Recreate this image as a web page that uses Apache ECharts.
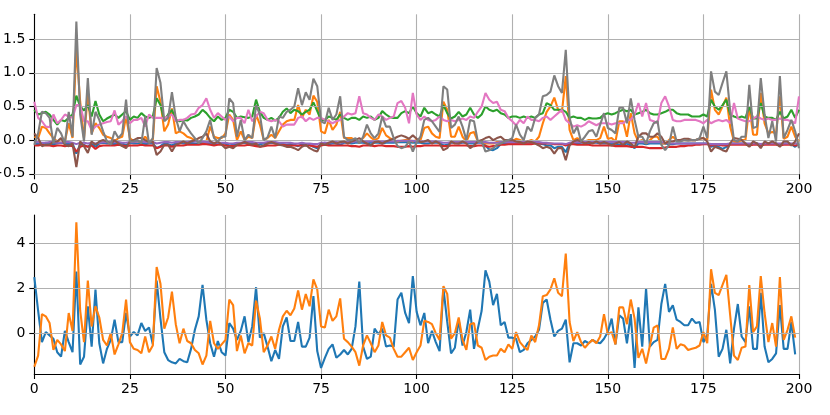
<!DOCTYPE html>
<html><head><meta charset="utf-8">
<script src="https://cdn.jsdelivr.net/npm/echarts@6/dist/echarts.min.js"></script>
<style>html,body{margin:0;padding:0;background:#fff}#c{width:830px;height:415px}</style>
</head><body><div id="c"></div>
<script>
// x positions are the sample index
const xTicks = [0,25,50,75,100,125,150,175,200];
const topYTicks = [-0.5,0,0.5,1.0,1.5];
const botYTicks = [0,2,4];

// ---- top panel series ----
const t1 = [-0.05,-0.06,-0.05,-0.04,-0.05,-0.06,-0.05,-0.04,-0.05,-0.06,
-0.05,-0.2,-0.06,-0.07,-0.1,-0.05,-0.1,-0.05,-0.04,-0.05,
-0.05,-0.06,-0.05,-0.05,-0.08,-0.04,-0.05,-0.05,-0.04,-0.06,
-0.05,-0.05,-0.12,-0.09,-0.05,-0.06,-0.08,-0.05,-0.04,-0.05,
-0.05,-0.04,-0.05,-0.05,-0.04,-0.05,-0.05,-0.06,-0.05,-0.05,
-0.05,-0.08,-0.07,-0.05,-0.05,-0.04,-0.05,-0.05,-0.08,-0.06,
-0.05,-0.05,-0.04,-0.05,-0.05,-0.06,-0.07,-0.06,-0.07,-0.09,
-0.06,-0.08,-0.07,-0.1,-0.12,-0.05,-0.04,-0.06,-0.05,-0.05,
-0.07,-0.04,-0.04,-0.05,-0.04,-0.04,-0.04,-0.05,-0.04,-0.04,
-0.04,-0.05,-0.04,-0.04,-0.04,-0.03,-0.03,-0.03,-0.03,-0.04,
-0.04,-0.04,-0.05,-0.05,-0.04,-0.04,-0.04,-0.08,-0.07,-0.04,
-0.04,-0.05,-0.04,-0.04,-0.05,-0.05,-0.04,-0.04,-0.08,-0.14,
-0.15,-0.12,-0.06,-0.05,-0.04,-0.04,-0.05,-0.04,-0.04,-0.04,
-0.04,-0.04,-0.05,-0.06,-0.08,-0.08,-0.12,-0.1,-0.1,-0.18,
-0.05,-0.04,-0.05,-0.04,-0.04,-0.05,-0.04,-0.04,-0.05,-0.05,
-0.05,-0.06,-0.05,-0.07,-0.07,-0.05,-0.08,-0.12,-0.05,-0.05,
-0.06,-0.05,-0.05,-0.05,-0.05,-0.05,-0.06,-0.06,-0.05,-0.05,
-0.05,-0.05,-0.05,-0.05,-0.05,-0.05,-0.05,-0.1,-0.08,-0.1,
-0.13,-0.1,-0.05,-0.05,-0.05,-0.05,-0.05,-0.08,-0.05,-0.05,
-0.08,-0.05,-0.05,-0.05,-0.05,-0.08,-0.05,-0.05,-0.06,-0.1,
-0.05];
const t2 = [0.05,0.03,0.2,0.18,0.1,0.03,-0.02,0,-0.02,0.25,
0.03,1.37,0.57,0.03,0.67,0.1,0.25,0.18,0.08,0.05,
0.03,-0.02,0.03,0.05,0.35,0.03,-0.02,-0.02,-0.02,0.05,
-0.02,0,0.8,0.57,0.13,0.23,0.47,0.1,0.13,0.1,
0.05,0.03,0,-0.01,-0.02,-0.02,0.2,0.05,0.03,0.03,
0.1,0.38,0.3,0,0.13,0,0.05,0.03,0.38,0.23,
0,0.03,0.08,0.03,0.13,0.23,0.28,0.3,0.3,0.52,
0.33,0.45,0.38,0.66,0.57,0.13,0.1,0.3,0.15,0.23,
0.42,0.03,0.03,0.03,0,-0.02,0.03,0.1,0.04,0,
0.03,0.18,0.07,0.03,0,-0.02,-0.01,0,0,-0.02,
0,0,0.18,0.2,0.1,0.05,0.03,0.57,0.45,0.05,
0.05,0.2,0.05,-0.02,0.1,0.12,-0.02,-0.02,-0.05,-0.05,
-0.05,-0.03,-0.02,-0.02,0,-0.02,0.02,0,-0.02,-0.02,
0,-0.02,0.05,0.25,0.42,0.5,0.63,0.45,0.42,0.95,
0.15,0,0.03,0,-0.02,0,0,0,0.03,0.2,
0.02,0.03,-0.02,0.28,0.28,0.05,0.4,0.1,-0.02,0,
-0.05,0,0.05,0.05,-0.05,-0.05,0,0.05,0,0,
0,0,0,0,0.02,0.03,0,0.75,0.45,0.38,
0.5,0.63,0.2,-0.02,-0.03,0,0,0.5,0.08,0.08,
0.7,0.25,0.1,0.12,0.1,0.65,0.02,0.05,0.2,0.05,
-0.02];
const t3 = [0.45,0.38,0.4,0.42,0.38,0.3,0.23,0.3,0.28,0.33,
0.38,0.66,0.5,0.44,0.52,0.35,0.58,0.38,0.28,0.32,
0.35,0.38,0.33,0.38,0.43,0.3,0.35,0.33,0.4,0.35,
0.33,0.35,0.62,0.52,0.3,0.38,0.45,0.3,0.28,0.3,
0.29,0.33,0.35,0.38,0.45,0.4,0.33,0.28,0.35,0.3,
0.33,0.45,0.42,0.33,0.35,0.34,0.33,0.35,0.6,0.42,
0.33,0.3,0.33,0.29,0.33,0.42,0.47,0.4,0.45,0.43,
0.38,0.42,0.45,0.56,0.43,0.3,0.3,0.35,0.33,0.3,
0.38,0.33,0.3,0.33,0.33,0.3,0.35,0.33,0.35,0.3,
0.33,0.43,0.38,0.34,0.33,0.33,0.4,0.43,0.4,0.5,
0.4,0.35,0.48,0.4,0.42,0.38,0.35,0.52,0.4,0.32,
0.35,0.42,0.35,0.38,0.48,0.38,0.33,0.38,0.5,0.45,
0.43,0.45,0.4,0.38,0.33,0.35,0.35,0.33,0.35,0.33,
0.35,0.33,0.38,0.4,0.55,0.52,0.45,0.45,0.45,0.42,
0.33,0.35,0.33,0.33,0.3,0.33,0.32,0.32,0.33,0.38,
0.4,0.38,0.4,0.43,0.45,0.43,0.45,0.38,0.4,0.42,
0.45,0.4,0.38,0.38,0.4,0.42,0.45,0.45,0.4,0.38,
0.38,0.38,0.35,0.35,0.35,0.38,0.35,0.6,0.5,0.45,
0.52,0.6,0.38,0.35,0.33,0.35,0.33,0.5,0.32,0.32,
0.55,0.35,0.33,0.33,0.3,0.42,0.32,0.35,0.45,0.33,
0.45];
const t4 = [-0.08,-0.08,-0.07,-0.08,-0.08,-0.09,-0.08,-0.08,-0.09,-0.08,
-0.09,-0.17,-0.1,-0.08,-0.1,-0.08,-0.13,-0.09,-0.08,-0.08,
-0.08,-0.08,-0.07,-0.08,-0.09,-0.08,-0.08,-0.08,-0.07,-0.08,
-0.08,-0.08,-0.12,-0.1,-0.08,-0.08,-0.1,-0.08,-0.08,-0.08,
-0.07,-0.07,-0.07,-0.07,-0.06,-0.06,-0.07,-0.08,-0.07,-0.07,
-0.08,-0.09,-0.09,-0.08,-0.08,-0.08,-0.07,-0.08,-0.09,-0.1,
-0.09,-0.08,-0.08,-0.08,-0.07,-0.07,-0.08,-0.08,-0.08,-0.08,
-0.08,-0.08,-0.08,-0.09,-0.1,-0.08,-0.07,-0.08,-0.08,-0.08,
-0.08,-0.08,-0.08,-0.09,-0.09,-0.1,-0.08,-0.08,-0.08,-0.09,
-0.08,-0.08,-0.09,-0.09,-0.09,-0.1,-0.1,-0.1,-0.09,-0.1,
-0.09,-0.09,-0.08,-0.08,-0.08,-0.08,-0.08,-0.09,-0.09,-0.08,
-0.08,-0.08,-0.08,-0.08,-0.09,-0.09,-0.08,-0.08,-0.09,-0.1,
-0.09,-0.08,-0.07,-0.07,-0.06,-0.06,-0.06,-0.06,-0.06,-0.06,
-0.06,-0.05,-0.05,-0.05,-0.05,-0.05,-0.06,-0.06,-0.06,-0.08,
-0.06,-0.06,-0.07,-0.07,-0.07,-0.07,-0.08,-0.08,-0.08,-0.08,
-0.08,-0.08,-0.09,-0.09,-0.09,-0.09,-0.1,-0.1,-0.1,-0.1,
-0.11,-0.12,-0.12,-0.12,-0.12,-0.11,-0.1,-0.1,-0.1,-0.09,
-0.09,-0.08,-0.08,-0.07,-0.07,-0.06,-0.06,-0.08,-0.07,-0.07,
-0.08,-0.08,-0.07,-0.07,-0.07,-0.07,-0.07,-0.08,-0.07,-0.07,
-0.08,-0.07,-0.07,-0.07,-0.07,-0.08,-0.07,-0.07,-0.07,-0.08,
-0.07];
const t5 = [-0.03,-0.03,-0.04,-0.04,-0.03,-0.03,-0.04,-0.04,-0.03,-0.03,
-0.04,-0.06,-0.04,-0.04,-0.05,-0.04,-0.05,-0.04,-0.03,-0.03,
-0.03,-0.03,-0.03,-0.04,-0.04,-0.03,-0.03,-0.02,-0.02,-0.03,
-0.03,-0.03,-0.05,-0.04,-0.03,-0.03,-0.04,-0.03,-0.03,-0.03,
-0.03,-0.02,-0.02,-0.02,-0.02,-0.03,-0.03,-0.04,-0.04,-0.04,
-0.04,-0.05,-0.05,-0.04,-0.04,-0.03,-0.03,-0.03,-0.04,-0.04,
-0.04,-0.03,-0.03,-0.03,-0.04,-0.04,-0.04,-0.04,-0.05,-0.05,
-0.04,-0.05,-0.05,-0.06,-0.06,-0.04,-0.04,-0.04,-0.03,-0.03,
-0.04,-0.03,-0.03,-0.03,-0.02,-0.02,-0.02,-0.02,-0.02,-0.02,
-0.02,-0.02,-0.02,-0.02,-0.02,-0.01,-0.01,-0.01,-0.01,-0.01,
-0.02,-0.02,-0.02,-0.02,-0.02,-0.02,-0.03,-0.04,-0.04,-0.03,
-0.03,-0.03,-0.03,-0.03,-0.03,-0.03,-0.03,-0.03,-0.03,-0.04,
-0.04,-0.04,-0.03,-0.03,-0.03,-0.03,-0.03,-0.03,-0.03,-0.03,
-0.03,-0.03,-0.03,-0.04,-0.04,-0.05,-0.05,-0.05,-0.05,-0.06,
-0.04,-0.03,-0.03,-0.03,-0.03,-0.03,-0.03,-0.03,-0.03,-0.03,
-0.03,-0.03,-0.03,-0.03,-0.03,-0.03,-0.04,-0.04,-0.03,-0.03,
-0.03,-0.03,-0.03,-0.03,-0.03,-0.04,-0.05,-0.05,-0.05,-0.05,
-0.05,-0.05,-0.05,-0.05,-0.05,-0.05,-0.05,-0.06,-0.06,-0.06,
-0.06,-0.06,-0.05,-0.05,-0.05,-0.05,-0.05,-0.05,-0.05,-0.05,
-0.06,-0.05,-0.05,-0.05,-0.05,-0.05,-0.05,-0.05,-0.05,-0.05,
-0.05];
const t6 = [0.1,0.03,-0.09,-0.07,-0.07,-0.02,-0.02,0.03,-0.07,-0.09,
-0.05,-0.4,-0.02,-0.09,-0.19,-0.02,-0.07,-0.02,0,-0.02,
-0.06,0,-0.05,-0.09,-0.12,-0.02,0,0.03,0.03,0,
-0.03,-0.02,-0.22,-0.17,-0.07,-0.07,-0.17,-0.07,-0.05,-0.02,
-0.05,-0.02,0,0.03,0.05,0.1,-0.02,-0.05,-0.02,-0.07,
-0.12,-0.1,-0.12,-0.07,-0.05,-0.03,-0.05,-0.07,-0.05,-0.1,
-0.08,-0.05,-0.03,-0.05,-0.07,-0.08,-0.1,-0.1,-0.12,-0.15,
-0.1,-0.07,-0.12,-0.15,-0.17,-0.05,-0.07,-0.04,-0.02,-0.05,
-0.03,-0.02,-0.05,-0.02,0,0.03,-0.02,-0.05,-0.08,-0.03,
-0.02,-0.05,-0.02,0,0.02,0.05,0.07,0.05,0.02,0.07,
0.02,-0.03,-0.02,0,-0.05,-0.02,-0.05,-0.15,-0.12,-0.02,
-0.05,-0.05,-0.02,-0.05,-0.12,-0.08,-0.02,0,0.03,0.05,
0,0.03,0.05,0,0,0,-0.02,-0.03,-0.05,-0.02,
-0.03,-0.05,-0.08,-0.12,-0.1,-0.12,-0.2,-0.12,-0.12,-0.3,
-0.08,-0.02,0,-0.02,-0.05,-0.03,-0.05,-0.02,-0.05,-0.03,
-0.05,-0.08,-0.05,-0.03,-0.07,-0.02,-0.05,-0.1,0.05,0.1,
0.1,0.05,0.05,0.1,0.05,-0.05,-0.02,-0.02,0,0,
0.02,0.02,0,0,0.02,0.03,-0.02,-0.17,-0.1,-0.12,
-0.15,-0.17,-0.05,0.03,0.02,0,-0.05,-0.1,-0.02,-0.05,
-0.12,-0.02,-0.05,-0.02,-0.05,-0.1,-0.02,-0.02,-0.08,-0.02,
0.1];
const t7 = [0.57,0.33,0.28,0.2,0.19,0.38,0.25,0.3,0.38,0.35,
0.33,0.52,0.52,0.28,0.28,0.15,0.2,0.23,0.25,0.27,
0.28,0.44,0.23,0.28,0.35,0.25,0.3,0.3,0.33,0.2,
0.38,0.33,0.33,0.33,0.32,0.35,0.38,0.28,0.3,0.3,
0.33,0.38,0.39,0.48,0.52,0.62,0.45,0.33,0.4,0.35,
0.3,0.35,0.28,0.33,0.33,0.25,0.45,0.28,0.35,0.42,
0.4,0.3,0.28,0.3,0.28,0.2,0.23,0.23,0.23,0.33,
0.35,0.28,0.33,0.3,0.33,0.33,0.3,0.28,0.25,0.28,
0.3,0.35,0.4,0.38,0.4,0.65,0.4,0.38,0.33,0.3,
0.38,0.35,0.3,0.33,0.35,0.55,0.58,0.48,0.25,0.7,
0.38,0.3,0.35,0.3,0.28,0.3,0.35,0.3,0.28,0.3,
0.28,0.3,0.32,0.3,0.35,0.33,0.42,0.5,0.7,0.6,
0.55,0.57,0.45,0.43,0.33,0.28,0.22,0.3,0.25,0.35,
0.3,0.3,0.28,0.33,0.35,0.3,0.35,0.4,0.45,0.3,
0.25,0.2,0.22,0.2,0.23,0.28,0.25,0.22,0.25,0.25,
0.25,0.23,0.25,0.25,0.25,0.3,0.3,0.38,0.55,0.35,
0.55,0.3,0.28,0.25,0.55,0.65,0.5,0.3,0.28,0.28,
0.3,0.3,0.3,0.3,0.28,0.25,0.3,0.25,0.28,0.3,
0.28,0.3,0.25,0.55,0.32,0.3,0.28,0.28,0.32,0.35,
0.32,0.3,0.32,0.3,0.3,0.32,0.3,0.3,0.28,0.25,
0.65];
const t8 = [-0.07,0.1,0.42,0.4,0.33,-0.05,0.18,0.1,-0.05,0.42,
0.05,1.76,0.38,-0.02,0.92,0.08,0.42,0.3,0.13,-0.02,
-0.07,0.13,0.03,0.1,0.6,-0.02,-0.02,0,-0.05,0.35,
-0.05,0.03,1.07,0.85,0.28,0.33,0.71,0.33,0.13,0.28,
0.18,0.1,0.03,-0.05,0.03,0.13,0.3,0.03,-0.02,0.05,
0.05,0.62,0.55,0.05,0.3,0,0.08,0.03,0.52,0.38,
0,0.04,0.2,0.03,0.35,0.33,0.42,0.45,0.5,0.77,
0.52,0.71,0.6,0.91,0.8,0.28,0.25,0.48,0.3,0.38,
0.65,0.05,0,0,0.03,-0.05,0.05,0.23,0.1,0.03,
0.1,0.35,0.2,0.2,0.03,-0.09,-0.12,-0.1,-0.02,-0.17,
-0.03,0.05,0.3,0.33,0.28,0.2,0.12,0.8,0.75,0.18,
0.23,0.35,0.2,0,0.3,0.28,-0.02,-0.02,-0.17,-0.15,
-0.12,-0.07,-0.05,-0.02,0,0.03,0.23,0.08,0,0.2,
0.13,0.33,0.38,0.65,0.67,0.72,0.96,0.8,0.7,1.34,
0.33,0.1,0.2,-0.02,0.05,0.13,0.15,0.05,0.23,0.4,
0.18,0.15,0.1,0.48,0.48,0.25,0.62,0.3,0.05,0.05,
-0.05,0.13,0.25,0.28,-0.07,-0.15,-0.07,0.2,-0.02,-0.02,
0,-0.01,0,0,0.03,0.2,0.03,1.02,0.72,0.67,
0.85,1.02,0.43,0,-0.02,0.05,0.05,0.82,0.18,0.2,
0.92,0.38,0.03,0.28,-0.02,0.95,0.03,0.15,0.3,0.13,
-0.12];

// ---- bottom panel series ----
const b1 = [2.5,1.0,-0.4,0.05,-0.1,-0.25,-0.85,-1.05,0.1,-0.4,
-0.85,2.75,-1.4,-1.05,1.2,-0.6,1.95,-0.45,-1.35,-0.7,
-0.3,0.6,-0.4,-0.4,0.9,-0.15,0.05,-0.1,0.45,0.1,
0.25,-0.5,2.35,0.65,-0.85,-1.2,-1.3,-1.35,-1.15,-1.25,
-1.3,-0.7,0.15,0.75,2.15,0.6,-0.45,-1.05,-0.35,-0.85,
-1.0,0.45,0.2,-0.3,0.1,0.75,-0.4,0.3,2.05,-0.2,
0.0,-0.6,-1.25,-0.75,-1.15,0.3,0.7,-0.35,-0.35,0.5,
-0.6,-0.6,-0.2,1.65,-0.8,-1.55,-1.1,-0.7,-0.5,-1.1,
-0.95,-0.75,-0.95,-0.7,0.3,2.3,-0.6,-1.15,-1.05,0.2,
-0.05,0.2,-0.6,-0.55,-0.6,1.5,1.8,0.9,0.45,2.55,
0.95,0.35,0.9,-0.45,0.1,-0.4,-0.8,2.0,0.5,-0.9,
-0.65,0.6,-0.55,0.05,1.05,-0.7,0.2,1.0,2.8,2.3,
1.25,1.75,0.35,0.5,-0.2,-0.2,-0.25,-0.85,-0.75,-0.45,
-0.3,-0.15,0.15,1.35,1.5,0.6,-0.15,0.1,0.2,0.6,
-1.3,-0.45,-0.45,-0.55,-0.35,-0.45,-0.3,-0.4,-0.45,-0.25,
0.05,0.65,-0.5,0.8,0.65,-0.45,0.85,-1.55,1.15,-0.6,
2.0,-0.6,-0.4,-0.3,1.3,2.2,0.95,1.25,0.6,0.5,
0.35,0.35,0.65,0.45,0.5,-0.4,-0.1,2.2,1.05,-1.05,
-0.7,0.15,-1.35,0.2,1.3,-0.15,-0.4,1.2,-0.7,-0.7,
1.8,-0.6,-1.3,-1.15,-0.9,1.25,-0.7,-0.7,0.5,-0.95];
const b2 = [-1.5,-1.0,0.85,0.75,0.45,-0.75,-0.3,-0.5,-0.8,0.9,
0.1,4.95,1.0,-0.4,2.35,0.3,1.2,0.7,-0.3,-0.55,
0.0,-0.95,-0.5,0.0,1.5,-0.4,-0.7,-0.75,-0.9,-0.15,
-0.85,-0.55,2.95,2.2,0.2,0.7,1.85,0.4,-0.45,0.2,
-0.35,-0.45,-0.75,-0.9,-1.4,-1.0,0.55,-0.45,-0.7,-0.5,
-0.3,1.5,1.25,-0.8,-0.1,-0.9,-0.45,-0.55,1.45,0.65,
-0.85,-0.55,-0.15,-0.7,0.15,0.75,1.0,0.8,1.1,1.9,
1.05,1.75,1.2,2.4,1.95,0.3,0.25,1.05,0.55,0.75,
1.55,-0.25,-0.4,-0.6,-0.85,-1.45,-0.55,-0.1,-0.45,-0.85,
-0.55,0.5,-0.1,-0.2,-0.7,-1.05,-1.05,-0.85,-0.65,-1.2,
-0.85,-0.55,0.55,0.5,0.4,0.0,-0.3,2.1,1.75,-0.25,
0.0,0.7,-0.3,-0.75,0.4,0.45,-0.55,-0.65,-1.2,-1.05,
-1.0,-1.0,-0.7,-0.85,-0.5,-0.7,0.05,-0.4,-0.6,-0.75,
-0.1,-0.4,0.35,1.65,1.7,1.95,2.45,1.8,1.65,3.55,
0.5,-0.35,0.05,-0.4,-0.65,-0.45,-0.3,-0.45,-0.15,0.85,
-0.05,0.05,-0.5,1.15,1.15,0.4,1.5,0.65,-1.1,-0.7,
-1.35,-0.55,0.25,0.35,-1.15,-1.15,-0.7,0.25,-0.7,-0.5,
-0.55,-0.75,-0.7,-0.65,-0.55,0.05,-0.45,2.85,1.8,1.7,
2.15,2.6,0.8,-1.0,-1.2,-0.65,-0.6,2.15,0.05,0.3,
2.55,0.9,-0.4,0.45,-0.6,2.5,-0.3,0.15,0.75,-0.2];

const C = ['#1f77b4','#ff7f0e','#2ca02c','#d62728','#9467bd','#8c564b','#e377c2','#7f7f7f'];
const topSeries = [t1,t2,t3,t4,t5,t6,t7,t8];
const botSeries = [b1,b2];

const FONT = 'DejaVu Sans';
const GRIDC = '#b0b0b0';
const pts = a => a.map((v,i)=>[i,v]);
const fmtTop = v => { const s = Math.abs(v).toFixed(1); return (v < -1e-9 ? '\u2212' : '') + s; };
const fmtBot = v => (v < 0 ? '\u2212' : '') + Math.abs(v).toString();

function xAx(gi){
  return {type:'value', gridIndex:gi, min:0, max:200, interval:25,
    axisLine:{show:true, onZero:false, lineStyle:{color:'#000', width:1.1}},
    axisTick:{show:true, length:5, lineStyle:{color:'#000', width:1.1}},
    axisLabel:{color:'#000', fontFamily:FONT, fontSize:14, margin:8},
    splitLine:{show:true, lineStyle:{color:GRIDC, width:1.1}}};
}
function yAx(gi,min,max,ticks,fmt){
  return {type:'value', gridIndex:gi, min:min, max:max,
    axisLine:{show:true, onZero:false, lineStyle:{color:'#000', width:1.1}},
    axisTick:{show:true, length:5, customValues:ticks, lineStyle:{color:'#000', width:1.1}},
    axisLabel:{color:'#000', fontFamily:FONT, fontSize:14, margin:9, customValues:ticks, formatter:fmt},
    splitLine:{show:false}};
}
function gridSeries(ai, ticks){
  return {type:'line', xAxisIndex:ai, yAxisIndex:ai, data:[[0,ticks[0]]], showSymbol:false, symbol:'none',
    lineStyle:{opacity:0}, z:1, silent:true,
    markLine:{silent:true, symbol:['none','none'], label:{show:false}, animation:false,
      lineStyle:{color:GRIDC, width:1.1, type:'solid'},
      data: ticks.map(v=>({yAxis:v}))}};
}
function lineSeries(ai, arr, color, k){
  return {type:'line', xAxisIndex:ai, yAxisIndex:ai, data:pts(arr), showSymbol:false, symbol:'none',
    lineStyle:{color:color, width:2.1}, itemStyle:{color:color}, z:2+k, silent:true};
}

const series = [gridSeries(0, topYTicks), gridSeries(1, botYTicks)];
topSeries.forEach((a,k)=>series.push(lineSeries(0,a,C[k],k)));
botSeries.forEach((a,k)=>series.push(lineSeries(1,a,C[k],k)));

const chart = echarts.init(document.getElementById('c'), null, {renderer:'canvas'});
chart.setOption({
  animation:false,
  backgroundColor:'#fff',
  grid:[
    {left:34.3, right:31, top:14.3, height:160, containLabel:false, outerBoundsMode:'none'},
    {left:34.3, right:31, top:215, height:159, containLabel:false, outerBoundsMode:'none'}
  ],
  xAxis:[xAx(0), xAx(1)],
  yAxis:[yAx(0,-0.508,1.868,topYTicks,fmtTop), yAx(1,-1.8225,5.2725,botYTicks,fmtBot)],
  series:series
});
</script></body></html>
